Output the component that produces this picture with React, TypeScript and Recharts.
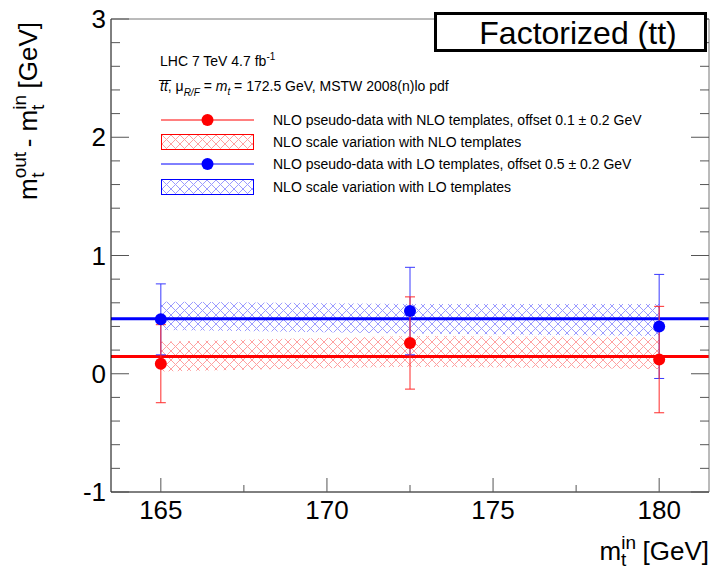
import {
  ComposedChart,
  Area,
  Scatter,
  ErrorBar,
  XAxis,
  YAxis,
  ReferenceLine,
} from 'recharts';

// input top mass points (GeV)
const massIn = [165, 172.5, 180];

// NLO pseudo-data fitted with NLO templates
const nloNloShift = [0.085, 0.26, 0.12];
const nloNloErr = [0.33, 0.39, 0.45];
// NLO pseudo-data fitted with LO templates
const nloLoShift = [0.46, 0.53, 0.4];
const nloLoErr = [0.3, 0.37, 0.44];

// scale variation bands (low / high edge)
const nloBandLow = [0.02, 0.06, 0.04];
const nloBandHigh = [0.27, 0.32, 0.31];
const loBandLow = [0.37, 0.34, 0.32];
const loBandHigh = [0.61, 0.59, 0.59];

// fitted constant offsets
const nloOffset = 0.145;
const loOffset = 0.465;

const xTicks = [165, 167.5, 170, 172.5, 175, 177.5, 180];
const yTicks = [
  -1, -0.8, -0.6, -0.4, -0.2, 0, 0.2, 0.4, 0.6, 0.8, 1, 1.2, 1.4, 1.6, 1.8, 2, 2.2, 2.4, 2.6, 2.8, 3,
];

const FONT = '"Liberation Sans", Arial, Helvetica, sans-serif';
const RED = '#ff0000';
const BLUE = '#0000ff';

const bandData = massIn.map((x, i) => ({
  x,
  nloBand: [nloBandLow[i], nloBandHigh[i]],
  loBand: [loBandLow[i], loBandHigh[i]],
}));

const nloPoints = massIn.map((x, i) => ({ x, y: nloNloShift[i], err: nloNloErr[i] }));
const loPoints = massIn.map((x, i) => ({ x, y: nloLoShift[i], err: nloLoErr[i] }));

const isMajor = (v: number) => Math.abs(v - Math.round(v)) < 1e-6;

// ROOT-style ticks: drawn inside the frame, labels only on majors
const LeftTick = (props: any) => {
  const { x, y, payload } = props;
  const major = isMajor(payload.value);
  return (
    <g>
      <line x1={x} x2={x + (major ? 18 : 9)} y1={y} y2={y} stroke="#555" strokeWidth={1} />
      {major && (
        <text
          x={x - 5}
          y={y + 9}
          textAnchor="end"
          fontSize={26}
          fontFamily={FONT}
          fill="#000"
        >
          {payload.value}
        </text>
      )}
    </g>
  );
};

const RightTick = (props: any) => {
  const { x, y, payload } = props;
  const major = isMajor(payload.value);
  return <line x1={x} x2={x - (major ? 18 : 9)} y1={y} y2={y} stroke="#555" strokeWidth={1} />;
};

const BottomTick = (props: any) => {
  const { x, y, payload } = props;
  const major = isMajor(payload.value / 5);
  return (
    <g>
      <line x1={x} x2={x} y1={y} y2={y - (major ? 14 : 7)} stroke="#555" strokeWidth={1} />
      {major && (
        <text x={x} y={y + 27} textAnchor="middle" fontSize={26} fontFamily={FONT} fill="#000">
          {payload.value}
        </text>
      )}
    </g>
  );
};

const Dot = (color: string) => (p: any) => <circle cx={p.cx} cy={p.cy} r={6} fill={color} />;

function HatchDefs() {
  return (
    <svg width={0} height={0} style={{ position: 'absolute' }}>
      <defs>
        <pattern id="hatchRed" patternUnits="userSpaceOnUse" width={9} height={9}>
          <path d="M0,0 L9,9 M9,0 L0,9" stroke="#ffa0a0" strokeWidth={1} />
        </pattern>
        <pattern id="hatchBlue" patternUnits="userSpaceOnUse" width={9} height={9}>
          <path d="M0,0 L9,9 M9,0 L0,9" stroke="#9c9cff" strokeWidth={1} />
        </pattern>
      </defs>
    </svg>
  );
}

function Overlay() {
  const legendRows = [
    { kind: 'dot', color: RED, y: 120, text: 'NLO pseudo-data with NLO templates, offset 0.1 \u00b1 0.2 GeV' },
    { kind: 'band', color: RED, fill: 'url(#hatchRed)', y: 142, text: 'NLO scale variation with NLO templates' },
    { kind: 'dot', color: BLUE, y: 164, text: 'NLO pseudo-data with LO templates, offset 0.5 \u00b1 0.2 GeV' },
    { kind: 'band', color: BLUE, fill: 'url(#hatchBlue)', y: 187, text: 'NLO scale variation with LO templates' },
  ];
  return (
    <svg
      width={713}
      height={571}
      style={{ position: 'absolute', left: 0, top: 0, pointerEvents: 'none' }}
      fontFamily={FONT}
    >
      {/* y axis title */}
      <text
        transform="translate(37,111) rotate(-90)"
        textAnchor="middle"
        fontSize={26}
        fill="#000"
      >
        m
        <tspan fontSize={19} dy={-11}>out</tspan>
        <tspan fontSize={19} dx={-26} dy={18}>t</tspan>
        <tspan dx={18} dy={-7}> - m</tspan>
        <tspan fontSize={19} dy={-11}>in</tspan>
        <tspan fontSize={19} dx={-15} dy={18}>t</tspan>
        <tspan dx={9} dy={-7}> [GeV]</tspan>
      </text>

      {/* x axis title */}
      <text x={709} y={560} textAnchor="end" fontSize={26} fill="#000">
        m
        <tspan fontSize={19} dy={-11}>in</tspan>
        <tspan fontSize={19} dx={-15} dy={17}>t</tspan>
        <tspan dx={9} dy={-6}> [GeV]</tspan>
      </text>

      {/* header box */}
      <rect x={435.5} y={13.5} width={270} height={37} fill="#fff" stroke="#000" strokeWidth={3} />
      <text x={578} y={44} textAnchor="middle" fontSize={32} fill="#000">
        Factorized (tt)
      </text>

      {/* sample description */}
      <text x={160} y={66} fontSize={14} fill="#000">
        LHC 7 TeV 4.7 fb
        <tspan fontSize={10} dy={-6}>-1</tspan>
      </text>
      <text x={160} y={91} fontSize={14} fill="#000">
        <tspan fontStyle="italic">t&#x0305;t&#x0305;</tspan>, μ
        <tspan fontSize={10} fontStyle="italic" dy={5}>R/F</tspan>
        <tspan dy={-5}> = </tspan>
        <tspan fontStyle="italic">m</tspan>
        <tspan fontSize={10} fontStyle="italic" dy={4}>t</tspan>
        <tspan dy={-4}> = 172.5 GeV, MSTW 2008(n)lo pdf</tspan>
      </text>

      {/* legend */}
      {legendRows.map((r) => (
        <g key={r.text}>
          {r.kind === 'dot' ? (
            <>
              <line x1={161} x2={254} y1={r.y} y2={r.y} stroke={r.color} strokeWidth={1} />
              <circle cx={207.5} cy={r.y} r={6} fill={r.color} />
            </>
          ) : (
            <rect x={161.5} y={r.y - 7.5} width={92} height={15} fill={r.fill} stroke={r.color} strokeWidth={1} />
          )}
          <text x={273} y={r.y + 5} fontSize={14} fill="#000">
            {r.text}
          </text>
        </g>
      ))}
    </svg>
  );
}

export default function App() {
  return (
    <div style={{ position: 'absolute', left: 0, top: 0, width: 713, height: 571, background: '#fff' }}>
      <HatchDefs />
      <ComposedChart
        width={713}
        height={571}
        data={bandData}
        margin={{ top: 18, right: 3, bottom: 78, left: 110 }}
      >
        <XAxis
          dataKey="x"
          type="number"
          domain={[163.5, 181.5]}
          ticks={xTicks}
          interval={0}
          height={1}
          tickSize={0}
          tickMargin={0}
          tick={BottomTick}
          axisLine={{ stroke: '#000', strokeWidth: 1 }}
          allowDataOverflow
        />
        <XAxis
          xAxisId="top"
          orientation="top"
          type="number"
          domain={[163.5, 181.5]}
          height={1}
          tick={false}
          tickLine={false}
          axisLine={{ stroke: '#777', strokeWidth: 1 }}
          allowDataOverflow
        />
        <YAxis
          type="number"
          domain={[-1, 3]}
          ticks={yTicks}
          interval={0}
          width={1}
          tickSize={0}
          tickMargin={0}
          tick={LeftTick}
          axisLine={{ stroke: '#000', strokeWidth: 1 }}
          allowDataOverflow
        />
        <YAxis
          yAxisId="right"
          orientation="right"
          type="number"
          domain={[-1, 3]}
          ticks={yTicks}
          interval={0}
          width={1}
          tickSize={0}
          tickMargin={0}
          tick={RightTick}
          axisLine={{ stroke: '#777', strokeWidth: 1 }}
          allowDataOverflow
        />

        <Area
          type="linear"
          dataKey="nloBand"
          fill="url(#hatchRed)"
          fillOpacity={1}
          stroke="none"
          isAnimationActive={false}
        />
        <Area
          type="linear"
          dataKey="loBand"
          fill="url(#hatchBlue)"
          fillOpacity={1}
          stroke="none"
          isAnimationActive={false}
        />

        <ReferenceLine y={loOffset} stroke={BLUE} strokeWidth={3} />
        <ReferenceLine y={nloOffset} stroke={RED} strokeWidth={3} />

        <Scatter data={loPoints} dataKey="y" shape={Dot(BLUE)} isAnimationActive={false}>
          <ErrorBar dataKey="err" direction="y" width={5} stroke="#3a3aff" strokeWidth={1} />
        </Scatter>
        <Scatter data={nloPoints} dataKey="y" shape={Dot(RED)} isAnimationActive={false}>
          <ErrorBar dataKey="err" direction="y" width={5} stroke="#ff2a2a" strokeWidth={1} />
        </Scatter>
      </ComposedChart>
      <Overlay />
    </div>
  );
}
